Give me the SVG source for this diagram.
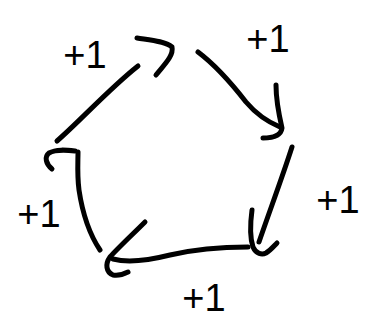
<svg xmlns="http://www.w3.org/2000/svg" width="371" height="320" viewBox="0 0 371 320">
<style>
.s{fill:none;stroke:#000;stroke-width:5;stroke-linecap:round;stroke-linejoin:round}
.t{font-family:"Liberation Sans",Arial,sans-serif;font-size:38px;fill:#000;text-anchor:middle}
</style>
<rect width="371" height="320" fill="#fff"/>
<g id="connectors">
<g id="edge1">
<path class="s" d="M57,141 C80,121 110,88 138,66"/>
<path class="s" d="M137,38 C150,40 165,41 172,47 C174,56 163,66 156,75"/>
</g>
<g id="edge2">
<path class="s" d="M198,52 C214,64 232,84 246,102 C257,115 268,122 280,127"/>
<path class="s" d="M276,85 C276,100 279,115 282,128 C281,136 272,138 263,138"/>
</g>
<g id="edge3">
<path class="s" d="M292,147 C282,178 270,210 259,242"/>
<path class="s" d="M252,210 C250,225 250,238 253,247 C256,254 262,255 266,253 C271,250 274,246 277,243"/>
</g>
<g id="edge4">
<path class="s" d="M248,247 C225,247 200,248 170,255 C150,260 128,263 113,259"/>
<path class="s" d="M145,222 C132,235 118,248 110,257 C105,264 106,272 113,275 C118,276 124,274 128,272"/>
</g>
<g id="edge5">
<path class="s" d="M100,250 C88,232 82,210 79,190 C77,175 78,162 78,152"/>
<path class="s" d="M52,169 C46,164 44,157 49,153 C56,149 66,150 75,151"/>
</g>
</g>
<g id="labels">
<text id="label1" class="t" x="85" y="68">+1</text>
<text id="label2" class="t" x="268" y="52">+1</text>
<text id="label3" class="t" x="338" y="213">+1</text>
<text id="label4" class="t" x="204" y="311">+1</text>
<text id="label5" class="t" x="39" y="227">+1</text>
</g>
</svg>
